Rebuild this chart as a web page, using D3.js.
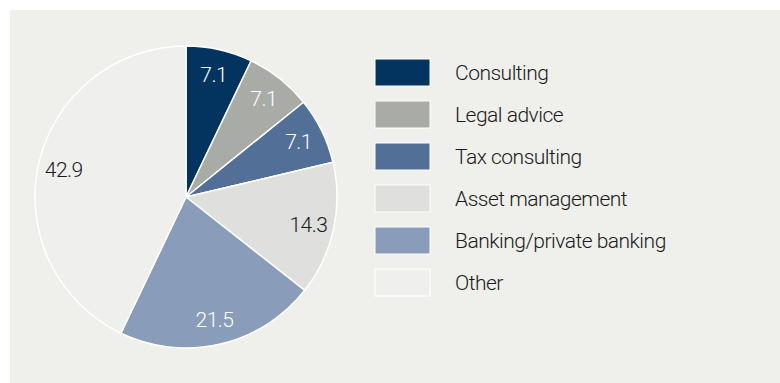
<!DOCTYPE html>
<html>
<head>
<meta charset="utf-8">
<script src="https://cdn.jsdelivr.net/npm/d3@7"></script>
<style>
  html, body { margin: 0; padding: 0; background: #ffffff; }
  svg { display: block; }
  text { font-family: Roboto, "Liberation Sans", Arial, sans-serif; font-weight: 300; letter-spacing: -0.5px; }
</style>
</head>
<body>
<svg id="chart" width="780" height="383"></svg>
<script>
// Share of mandates by service type (percent)
const categories = ["Consulting", "Legal advice", "Tax consulting", "Asset management", "Banking/private banking", "Other"];
const values = [7.1, 7.1, 7.1, 14.3, 21.5, 42.9];
const colors = ["#02345f", "#a9aba6", "#516f97", "#dfe0dd", "#899cb9", "#efefed"];
const labelColors = ["#ffffff", "#ffffff", "#ffffff", "#1a1a1a", "#ffffff", "#1a1a1a"];

const svg = d3.select("#chart");

// panel background
svg.append("rect")
  .attr("x", 10).attr("y", 10)
  .attr("width", 770).attr("height", 373)
  .attr("fill", "#efefeb");

const cx = 186, cy = 197, radius = 151;
const data = categories.map((c, i) => ({ name: c, value: values[i], color: colors[i], labelColor: labelColors[i] }));

const pie = d3.pie().value(d => d.value).sort(null);
const arc = d3.arc().innerRadius(0).outerRadius(radius);
const labelArc = d3.arc().innerRadius(radius * 0.83).outerRadius(radius * 0.83);

const g = svg.append("g").attr("transform", `translate(${cx},${cy})`);
const arcs = pie(data);

g.selectAll("path.slice")
  .data(arcs)
  .enter().append("path")
  .attr("class", "slice")
  .attr("d", arc)
  .attr("fill", d => d.data.color)
  .attr("stroke", "#ffffff")
  .attr("stroke-width", 1.5)
  .attr("stroke-linejoin", "round");

g.selectAll("text.val")
  .data(arcs)
  .enter().append("text")
  .attr("class", "val")
  .attr("transform", d => `translate(${labelArc.centroid(d)})`)
  .attr("text-anchor", "middle")
  .attr("dy", "0.36em")
  .attr("font-size", 21)
  .attr("fill", d => d.data.labelColor)
  .text(d => d.data.value.toFixed(1));

// legend
const legend = svg.append("g").attr("transform", "translate(375,59)");
const step = 42;
const item = legend.selectAll("g.item")
  .data(data)
  .enter().append("g")
  .attr("class", "item")
  .attr("transform", (d, i) => `translate(0,${i * step})`);

item.append("rect")
  .attr("width", 55).attr("height", 27)
  .attr("fill", d => d.color)
  .attr("stroke", "#ffffff")
  .attr("stroke-width", 1);

item.append("text")
  .attr("x", 80).attr("y", 13.5)
  .attr("dy", "0.36em")
  .attr("font-size", 21)
  .attr("fill", "#1a1a1a")
  .text(d => d.name);
</script>
</body>
</html>
